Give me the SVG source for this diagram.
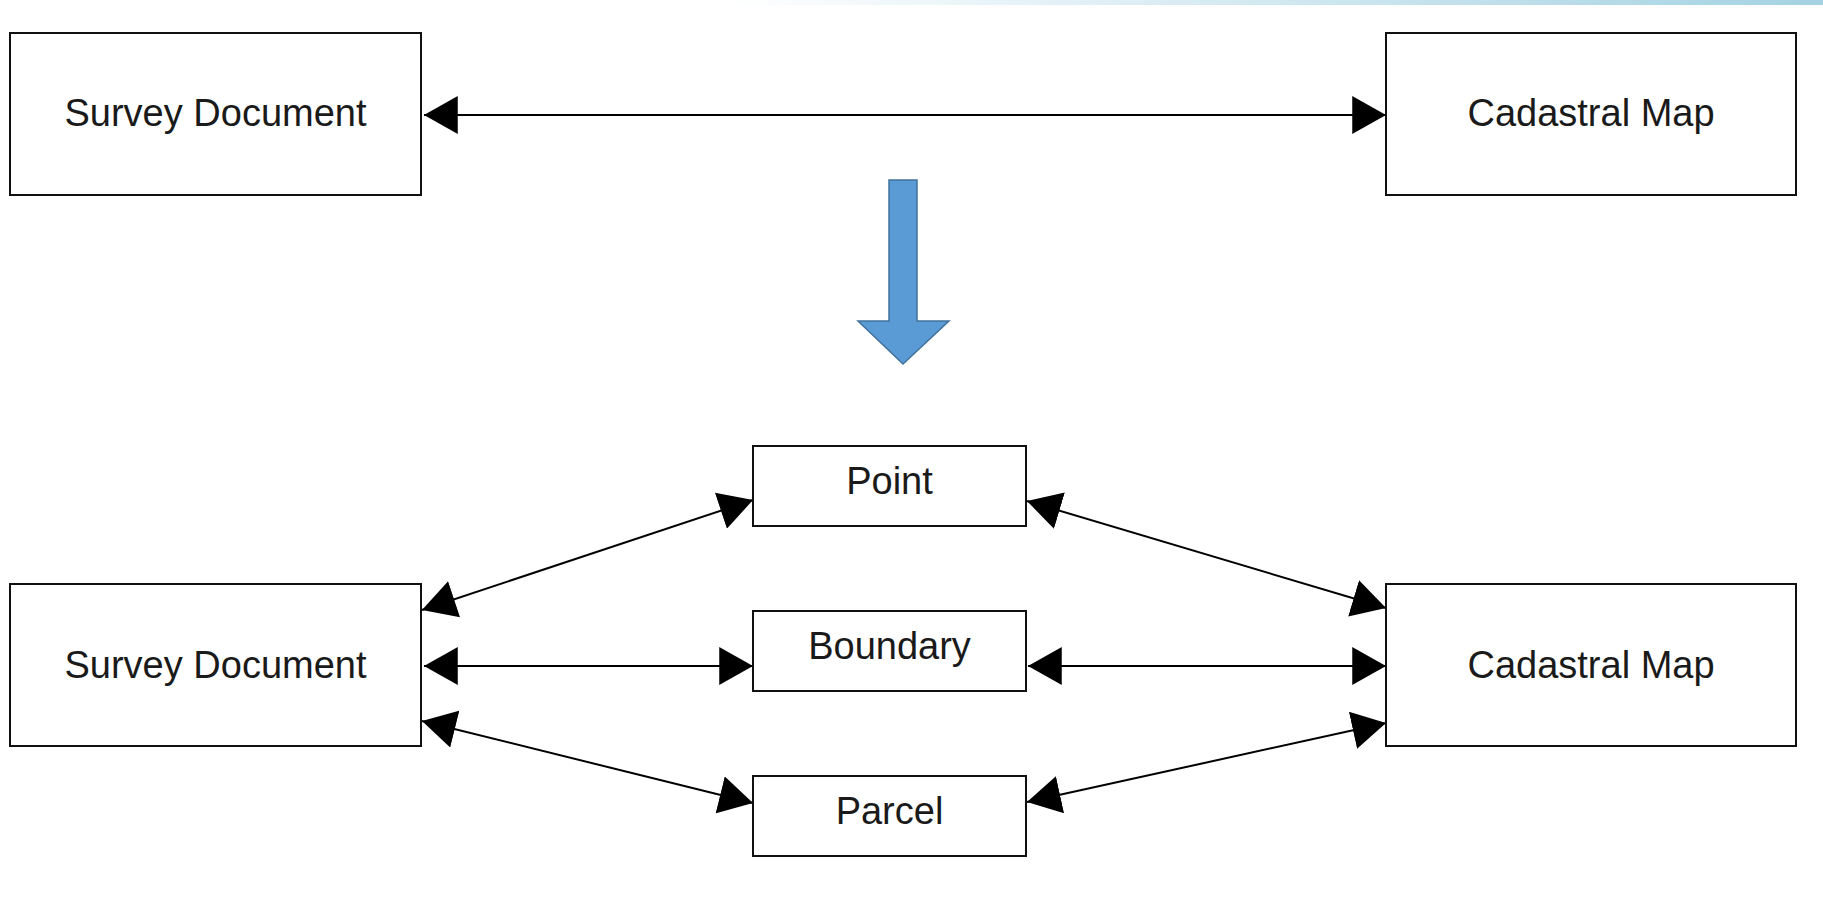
<svg xmlns="http://www.w3.org/2000/svg" width="1823" height="916" viewBox="0 0 1823 916">
<defs>
<linearGradient id="band" x1="0" y1="0" x2="1" y2="0">
<stop offset="0" stop-color="#ffffff"/>
<stop offset="1" stop-color="#a4d2e2"/>
</linearGradient>
<marker id="ah" markerUnits="userSpaceOnUse" markerWidth="34" markerHeight="38" viewBox="0 0 32 36" refX="32" refY="18" orient="auto-start-reverse">
<path d="M0,0 L32,18 L0,36 z" fill="#000"/>
</marker>
<style>
.box{fill:#fff;stroke:#111;stroke-width:2}
.lbl{font-family:"Liberation Sans",Arial,sans-serif;font-size:38px;fill:#1a1a1a;text-anchor:middle}
.con{stroke:#000;stroke-width:2;fill:none;marker-start:url(#ah);marker-end:url(#ah)}
</style>
</defs>
<rect x="0" y="0" width="1823" height="916" fill="#fff"/>
<rect x="720" y="0" width="1103" height="5" fill="url(#band)"/>

<g id="connectors">
<line class="con" x1="424" y1="115" x2="1386" y2="115"/>
<line class="con" x1="422" y1="610" x2="753" y2="500"/>
<line class="con" x1="424" y1="666" x2="753" y2="666"/>
<line class="con" x1="422" y1="721" x2="753" y2="803"/>
<line class="con" x1="1027" y1="501" x2="1386" y2="608"/>
<line class="con" x1="1028" y1="666" x2="1386" y2="666"/>
<line class="con" x1="1027" y1="802" x2="1386" y2="723"/>
</g>

<g id="transform-arrow">
<polygon points="889,180 917,180 917,321 949,321 903,364 858,321 889,321" fill="#5b9bd5" stroke="#41719c" stroke-width="1.5"/>
</g>

<g id="survey-top">
<rect class="box" x="10" y="33" width="411" height="162"/>
<text class="lbl" x="215.5" y="126">Survey Document</text>
</g>
<g id="cadastral-top">
<rect class="box" x="1386" y="33" width="410" height="162"/>
<text class="lbl" x="1591" y="126">Cadastral Map</text>
</g>

<g id="survey-bottom">
<rect class="box" x="10" y="584" width="411" height="162"/>
<text class="lbl" x="215.5" y="678">Survey Document</text>
</g>
<g id="cadastral-bottom">
<rect class="box" x="1386" y="584" width="410" height="162"/>
<text class="lbl" x="1591" y="678">Cadastral Map</text>
</g>

<g id="point">
<rect class="box" x="753" y="446" width="273" height="80"/>
<text class="lbl" x="889.5" y="494">Point</text>
</g>
<g id="boundary">
<rect class="box" x="753" y="611" width="273" height="80"/>
<text class="lbl" x="889.5" y="659">Boundary</text>
</g>
<g id="parcel">
<rect class="box" x="753" y="776" width="273" height="80"/>
<text class="lbl" x="889.5" y="824">Parcel</text>
</g>
</svg>
